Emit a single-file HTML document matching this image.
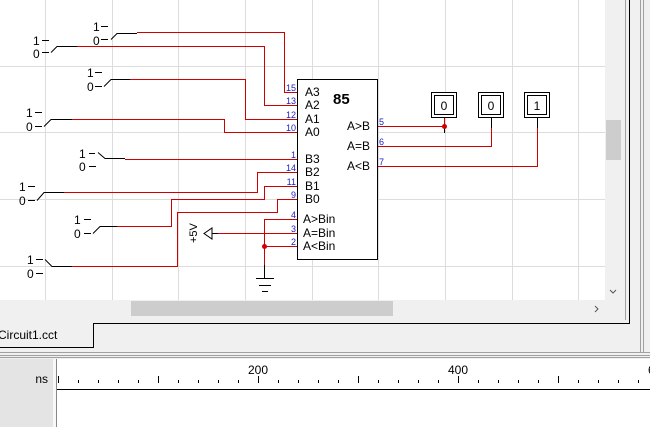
<!DOCTYPE html>
<html><head><meta charset="utf-8"><style>
body{margin:0;width:650px;height:427px;overflow:hidden;background:#f0f0f0;font-family:"Liberation Sans",sans-serif}
svg{display:block}
</style></head><body>
<svg width="650" height="427" viewBox="0 0 650 427" xmlns="http://www.w3.org/2000/svg" font-family="Liberation Sans, sans-serif">
<g>
<rect x="0" y="0" width="605" height="300" fill="#fff"/>
<g stroke="#dcdcdc" stroke-width="1">
<line x1="45.5" y1="0" x2="45.5" y2="300"/><line x1="112.5" y1="0" x2="112.5" y2="300"/><line x1="178.5" y1="0" x2="178.5" y2="300"/><line x1="245.5" y1="0" x2="245.5" y2="300"/><line x1="312.5" y1="0" x2="312.5" y2="300"/><line x1="378.5" y1="0" x2="378.5" y2="300"/><line x1="445.5" y1="0" x2="445.5" y2="300"/><line x1="512.5" y1="0" x2="512.5" y2="300"/><line x1="578.5" y1="0" x2="578.5" y2="300"/>
<line x1="0" y1="66.5" x2="605" y2="66.5"/><line x1="0" y1="132.5" x2="605" y2="132.5"/><line x1="0" y1="199.5" x2="605" y2="199.5"/><line x1="0" y1="266.5" x2="605" y2="266.5"/>
</g>
<!-- switches -->
<g font-size="12" fill="#000">
<text x="93" y="31">1</text><text x="93" y="45">0</text>
<text x="33" y="45">1</text><text x="33" y="58">0</text>
<text x="87" y="77">1</text><text x="87" y="91">0</text>
<text x="26" y="117">1</text><text x="26" y="131">0</text>
<text x="79" y="158">1</text><text x="79" y="171">0</text>
<text x="19" y="191">1</text><text x="19" y="205">0</text>
<text x="74" y="224">1</text><text x="74" y="238">0</text>
<text x="27" y="264">1</text><text x="27" y="278">0</text>
</g>
<g stroke="#000" stroke-width="1" fill="none">
<path d="M101 26.5h7M101 39.5h7M111 39.5l6-6h20"/>
<path d="M42 40.5h7M42 52.5h7M51 52.5l6-6h20"/>
<path d="M95 72.5h7M95 86.5h7M104 86.5l7-7h19"/>
<path d="M35 112.5h7M35 126.5h7M44 126.5l7-7h21"/>
<path d="M89 153.5h6M89 166.5h7M98 152.5l7 6h20"/>
<path d="M28 186.5h7M28 200.5h7M37 200.5l7-8h20"/>
<path d="M84 219.5h7M84 233.5h7M93 233.5l7-7h17"/>
<path d="M36 259.5h7M36 273.5h7M45 259.5l7 7h20"/>
</g>
<g stroke="#d00000" stroke-width="1" fill="none">
<path d="M137 32.5H284.5V92.5H297"/>
<path d="M77 46.5H264.5V105.5H297"/>
<path d="M130 79.5H245.5V119.5H297"/>
<path d="M72 119.5H224.5V132.5H297"/>
<path d="M125 159.5H297"/>
<path d="M64 192.5H257.5V172.5H297"/>
<path d="M117 226.5H171.5V199.5H264.5V186.5H297"/>
<path d="M72 266.5H177.5V212.5H277.5V199.5H297"/>
<path d="M297 219.5H264.5V276"/>
<path d="M297 233.5H218"/>
<path d="M297 246.5H264"/>
<path d="M377 126.5H444.5V118"/>
<path d="M377 146.5H491.5V127"/>
<path d="M377 166.5H537.5V127"/>
</g>
<g stroke="#000" stroke-width="1">
<line x1="491.5" y1="118" x2="491.5" y2="128"/><line x1="537.5" y1="118" x2="537.5" y2="128"/><line x1="444.5" y1="126" x2="444.5" y2="133"/>
</g>
<circle cx="444.5" cy="126.5" r="2.5" fill="#d00000"/>
<circle cx="264.5" cy="246.5" r="2.5" fill="#d00000"/>
<!-- chip -->
<g>
<rect x="297.5" y="79.5" width="80" height="180" fill="#fff" stroke="#000"/>
<text x="333" y="104" font-size="15" font-weight="bold">85</text>
<g font-size="12">
<text x="305" y="96">A3</text><text x="305" y="109">A2</text><text x="305" y="123">A1</text><text x="305" y="136">A0</text>
<text x="305" y="163">B3</text><text x="305" y="176">B2</text><text x="305" y="190">B1</text><text x="305" y="203">B0</text>
<text x="303" y="223">A&gt;Bin</text><text x="303" y="237">A=Bin</text><text x="303" y="250">A&lt;Bin</text>
<text x="370" y="130" text-anchor="end">A&gt;B</text><text x="370" y="150" text-anchor="end">A=B</text><text x="370" y="170" text-anchor="end">A&lt;B</text>
</g>
<g font-size="9" fill="#2020c0" text-anchor="end">
<text x="296" y="91">15</text><text x="296" y="104">13</text><text x="296" y="118">12</text><text x="296" y="131">10</text>
<text x="296" y="158">1</text><text x="296" y="171">14</text><text x="296" y="185">11</text><text x="296" y="198">9</text>
<text x="296" y="218">4</text><text x="296" y="232">3</text><text x="296" y="245">2</text>
</g>
<g font-size="9" fill="#2020c0"><text x="379" y="125">5</text><text x="379" y="145">6</text><text x="379" y="165">7</text></g>
</g>
<!-- +5V -->
<g>
<path d="M218 233.5h-6M212 228v11l-8-5.5z" stroke="#000" fill="#fff"/>
<text x="0" y="0" font-size="11" transform="translate(197 243) rotate(-90)">+5V</text>
</g>
<g stroke="#000">
<line x1="264.5" y1="265" x2="264.5" y2="278"/><line x1="256" y1="278.5" x2="274" y2="278.5"/><line x1="259" y1="285.5" x2="271" y2="285.5"/><line x1="262" y1="291.5" x2="268" y2="291.5"/>
</g>
<!-- LEDs -->
<g font-size="12" text-anchor="middle">
<rect x="431.5" y="92.5" width="25" height="25" fill="#fff" stroke="#000"/><rect x="434.5" y="95.5" width="19" height="19" fill="none" stroke="#000"/><text x="444" y="110">0</text>
<rect x="478.5" y="92.5" width="25" height="25" fill="#fff" stroke="#000"/><rect x="481.5" y="95.5" width="19" height="19" fill="none" stroke="#000"/><text x="491" y="110">0</text>
<rect x="524.5" y="92.5" width="25" height="25" fill="#fff" stroke="#000"/><rect x="527.5" y="95.5" width="19" height="19" fill="none" stroke="#000"/><text x="537" y="110">1</text>
</g>
</g>
<!-- scrollbars -->
<rect x="605" y="0" width="17" height="300" fill="#f0f0f0"/>
<rect x="606" y="120" width="15" height="40" fill="#cdcdcd"/>
<path d="M610 290l3 3 3-3" stroke="#555" fill="none"/>
<rect x="0" y="300" width="622" height="17" fill="#f0f0f0"/>
<rect x="131" y="301" width="262" height="15" fill="#cdcdcd"/>
<path d="M595 306l3 3-3 3" stroke="#555" fill="none"/>
<g stroke="#000" fill="none">
<path d="M629.5 0V323.5H93.5V347.5H0"/>
</g>
<g stroke="#a0a0a0">
<line x1="640.5" y1="0" x2="640.5" y2="352"/><line x1="643.5" y1="0" x2="643.5" y2="352"/><line x1="625.5" y1="0" x2="625.5" y2="320"/>
<line x1="0" y1="352.5" x2="650" y2="352.5"/><line x1="0" y1="355.5" x2="650" y2="355.5"/><line x1="0" y1="357.5" x2="650" y2="357.5"/>
</g>
<text x="-2" y="339" font-size="12">Circuit1.cct</text>
<!-- bottom panel -->
<rect x="0" y="359" width="53" height="68" fill="#e4e4e4"/>
<rect x="53" y="359" width="4" height="68" fill="#f8f8f8"/>
<line x1="56.5" y1="359" x2="56.5" y2="427" stroke="#888"/>
<rect x="57" y="359" width="593" height="68" fill="#fff"/>
<text x="48" y="383" font-size="12" text-anchor="end">ns</text>
<g id="ruler"></g>
<line x1="57" y1="389.5" x2="650" y2="389.5" stroke="#000"/>
</svg>
<script>
const majorLabels=[200,400,600];
const ns0=58, pxPerNs=1;
const g=document.getElementById('ruler');
const NS='http://www.w3.org/2000/svg';
for(let t=0;t<=600;t+=20){
  const x=ns0+t*pxPerNs+0.5;
  const l=document.createElementNS(NS,'line');
  l.setAttribute('x1',x);l.setAttribute('x2',x);
  l.setAttribute('y1',t%100===0?376:380);l.setAttribute('y2',383);
  l.setAttribute('stroke','#000');
  
  
  g.appendChild(l);
}
majorLabels.forEach(v=>{
  const tx=document.createElementNS(NS,'text');
  tx.setAttribute('x',ns0+v*pxPerNs);tx.setAttribute('y',374);
  tx.setAttribute('font-size','12');tx.setAttribute('text-anchor','middle');
  tx.textContent=v;
  
  
  g.appendChild(tx);
});
</script>
</body></html>
